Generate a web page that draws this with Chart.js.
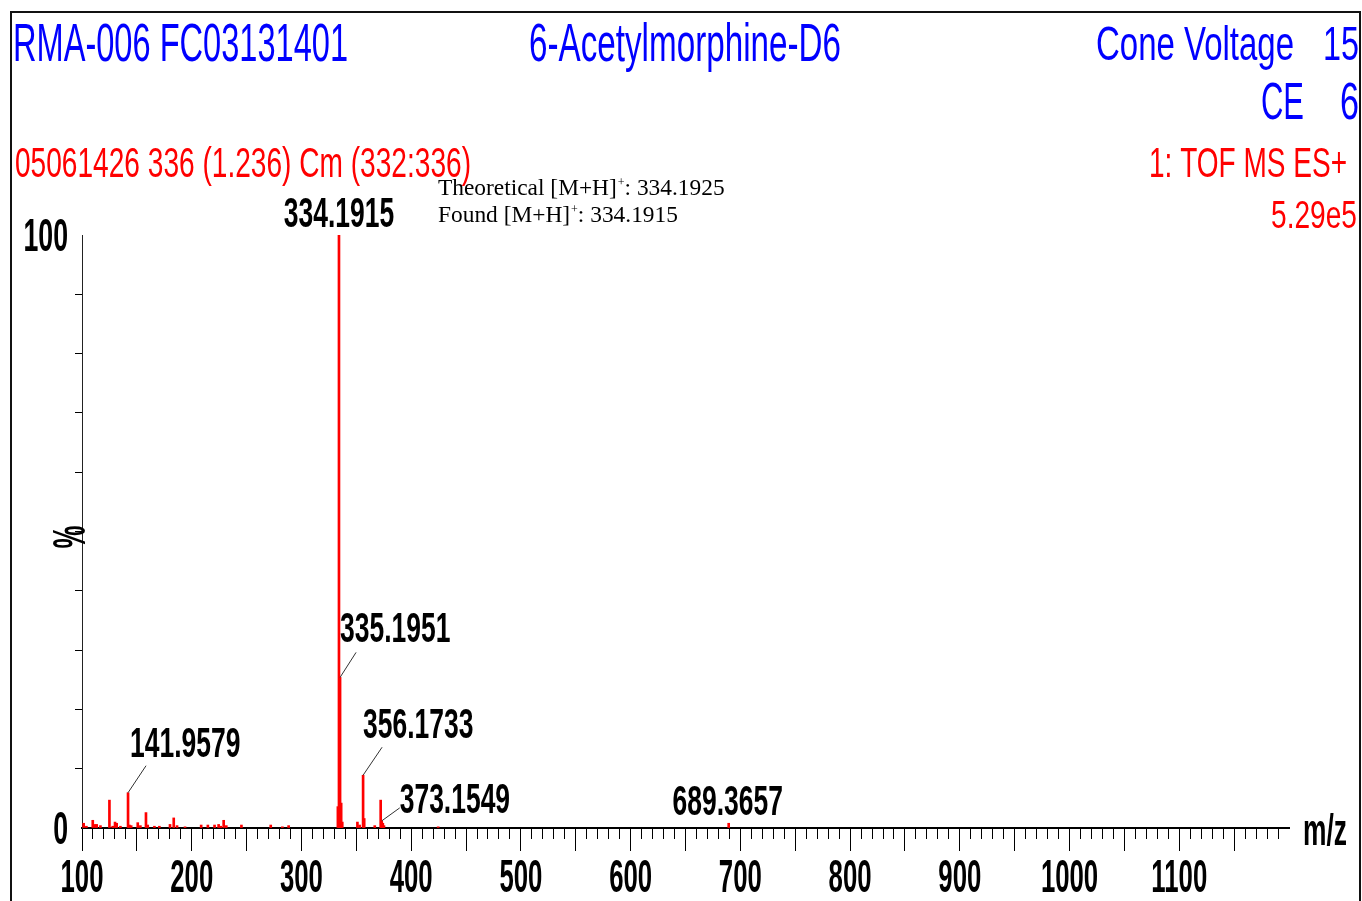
<!DOCTYPE html>
<html>
<head>
<meta charset="utf-8">
<script src="https://cdn.jsdelivr.net/npm/chart.js@4.4.1/dist/chart.umd.min.js"></script>
<style>
html,body{margin:0;padding:0;background:#fff;}
#wrap{width:1362px;height:901px;position:relative;}
</style>
</head>
<body>
<div id="wrap"><canvas id="c"></canvas></div>
<script>
// ---------------- DATA ----------------
const peakMz = [101.5, 104.0, 109.8, 111.9, 113.4, 116.8, 125.0, 128.0, 130.1, 131.6, 135.0,
  141.9579, 143.2, 144.8, 150.8, 153.2, 158.3, 159.9, 166.0, 170.5, 180.2, 183.6, 186.6, 193.9,
  208.6, 214.7, 220.8, 224.5, 226.4, 229.1, 231.5, 245.3, 272.0, 282.6, 288.3,
  333.19, 334.1915, 335.1951, 336.20, 337.20, 351.0, 353.0, 356.1733, 357.18, 366.8,
  372.2, 373.1549, 374.16, 375.2, 424.6, 689.3657];
const peakIntensity = [0.8, 0.3, 1.3, 0.6, 0.6, 0.4, 4.7, 0.3, 1.0, 0.8, 0.3,
  5.95, 0.5, 0.4, 0.9, 0.4, 2.6, 0.5, 0.3, 0.3, 0.6, 1.7, 0.4, 0.2,
  0.5, 0.5, 0.5, 0.6, 0.3, 1.3, 0.4, 0.5, 0.5, 0.2, 0.4,
  3.6, 100, 25.4, 4.2, 1.0, 1.0, 0.5, 8.9, 1.6, 0.4,
  4.7, 1.2, 0.8, 0.4, 0.2, 0.8];
const labelledMz = [141.9579, 334.1915, 335.1951, 356.1733, 373.1549, 689.3657];
const xTickLabels = [100, 200, 300, 400, 500, 600, 700, 800, 900, 1000, 1100];
const yTickLabels = [0, 100];
const sampleTitle = 'RMA-006 FC03131401';
const compoundTitle = '6-Acetylmorphine-D6';
const coneLabel = 'Cone Voltage', coneValue = '15';
const ceLabel = 'CE', ceValue = '6';
const scanInfo = '05061426 336 (1.236) Cm (332:336)';
const modeInfo = '1: TOF MS ES+';
const intensityInfo = '5.29e5';
const theoreticalText = ['Theoretical [M+H]', '+', ': 334.1925'];
const foundText = ['Found [M+H]', '+', ': 334.1915'];
const xAxisTitle = 'm/z';
const yAxisTitle = '%';

// ---------------- STYLE / LAYOUT ----------------
const labelLayout = {
  '141.9579': {lead: [18, -27], dx: 2, dy: -36, align: 'left'},
  '334.1915': {lead: null, dx: 0, dy: -8, align: 'center'},
  '335.1951': {lead: [16, -25], dx: 0, dy: -35, align: 'left'},
  '356.1733': {lead: [19, -28], dx: 0, dy: -37, align: 'left'},
  '373.1549': {lead: [18, -13], dx: 18, dy: -8, align: 'left'},
  '689.3657': {lead: null, dx: -1, dy: -8, align: 'center'}
};
const SANS = "'Liberation Sans', Arial, sans-serif";
const SERIF = "'Liberation Serif', 'Times New Roman', serif";

function drawScaled(ctx, s, x, base, size, sx, align, weight, family, color) {
  ctx.save();
  ctx.font = weight + ' ' + size + 'px ' + family;
  ctx.fillStyle = color;
  ctx.textBaseline = 'alphabetic';
  ctx.textAlign = 'left';
  const w = ctx.measureText(s).width * sx;
  const left = align === 'center' ? x - w / 2 : (align === 'right' ? x - w : x);
  ctx.translate(left, base);
  ctx.scale(sx, 1);
  ctx.fillText(s, 0, 0);
  ctx.restore();
  return w;
}
function drawFit(ctx, s, left, right, base, cap, weight, family, color) {
  const size = cap / 0.716;
  ctx.save();
  ctx.font = weight + ' ' + size + 'px ' + family;
  const w = ctx.measureText(s).width;
  ctx.restore();
  drawScaled(ctx, s, left, base, size, (right - left) / w, 'left', weight, family, color);
}

const framePlugin = {
  id: 'frame',
  beforeDraw(chart) {
    const ctx = chart.ctx;
    ctx.save();
    ctx.fillStyle = '#fff';
    ctx.fillRect(0, 0, chart.width, chart.height);
    ctx.strokeStyle = '#111';
    ctx.lineWidth = 2;
    ctx.strokeRect(11, 12, 1349, 1000);
    ctx.restore();
  }
};

const textPlugin = {
  id: 'texts',
  afterDraw(chart) {
    const ctx = chart.ctx;
    const xs = chart.scales.x, ys = chart.scales.y;
    const BLUE = '#0000ff', RED = '#ff0000', BLACK = '#000';
    // header
    drawFit(ctx, sampleTitle, 13, 348, 61, 38, 'normal', SANS, BLUE);
    drawFit(ctx, compoundTitle, 529, 841, 61, 38, 'normal', SANS, BLUE);
    drawFit(ctx, coneLabel, 1096, 1294, 60, 35, 'normal', SANS, BLUE);
    drawFit(ctx, coneValue, 1323, 1359, 60, 35, 'normal', SANS, BLUE);
    drawFit(ctx, ceLabel, 1261, 1304, 119, 37, 'normal', SANS, BLUE);
    drawFit(ctx, ceValue, 1340, 1359, 119, 37, 'normal', SANS, BLUE);
    drawFit(ctx, scanInfo, 15, 471, 177, 30, 'normal', SANS, RED);
    drawFit(ctx, modeInfo, 1149, 1347, 177, 31, 'normal', SANS, RED);
    drawFit(ctx, intensityInfo, 1271, 1357, 228, 28, 'normal', SANS, RED);
    // theoretical / found
    [[theoreticalText, 195], [foundText, 222]].forEach(([parts, base]) => {
      ctx.save();
      ctx.fillStyle = BLACK; ctx.textBaseline = 'alphabetic'; ctx.textAlign = 'left';
      let x = 438;
      ctx.font = '23.4px ' + SERIF; ctx.fillText(parts[0], x, base); x += ctx.measureText(parts[0]).width;
      ctx.font = '12px ' + SERIF; ctx.fillText(parts[1], x + 1, base - 9); x += ctx.measureText(parts[1]).width + 1;
      ctx.font = '23.4px ' + SERIF; ctx.fillText(parts[2], x, base);
      ctx.restore();
    });
    // x tick labels
    xTickLabels.forEach(v => {
      drawScaled(ctx, String(v), xs.getPixelForValue(v), 892, 46, 0.56, 'center', 'bold', SANS, BLACK);
    });
    // y tick labels
    yTickLabels.forEach(v => {
      const py = ys.getPixelForValue(v);
      drawScaled(ctx, String(v), 68, py + (v === 0 ? 16 : 16), 46, 0.58, 'right', 'bold', SANS, BLACK);
    });
    // axis titles
    drawScaled(ctx, xAxisTitle, 1303, 845, 44, 0.6, 'left', 'bold', SANS, BLACK);
    ctx.save();
    ctx.translate(85, 537);
    ctx.rotate(-Math.PI / 2);
    drawScaled(ctx, yAxisTitle, 0, 0, 46, 0.56, 'center', 'bold', SANS, BLACK);
    ctx.restore();
    // peak labels
    labelledMz.forEach(m => {
      const i = peakMz.indexOf(m);
      const px = xs.getPixelForValue(m), py = ys.getPixelForValue(peakIntensity[i]);
      const L = labelLayout[m.toFixed(4)];
      if (L.lead) {
        ctx.save();
        ctx.strokeStyle = '#333'; ctx.lineWidth = 1;
        ctx.beginPath(); ctx.moveTo(px, py); ctx.lineTo(px + L.lead[0], py + L.lead[1]); ctx.stroke();
        ctx.restore();
      }
      drawScaled(ctx, m.toFixed(4), px + L.dx, py + L.dy, 42, 0.63, L.align, 'bold', SANS, BLACK);
    });
  }
};

const hideAt = (vals) => (c) => (c.tick && vals.indexOf(c.tick.value) >= 0) ? 'rgba(0,0,0,0)' : '#000';

new Chart(document.getElementById('c'), {
  type: 'bar',
  data: {
    datasets: [{
      data: peakMz.map((m, i) => ({x: m, y: peakIntensity[i]})),
      backgroundColor: '#ff0000',
      borderWidth: 0,
      barThickness: 2
    }]
  },
  options: {
    responsive: true,
    maintainAspectRatio: false,
    animation: false,
    devicePixelRatio: 1,
    layout: {padding: {left: 72, right: 73, top: 235, bottom: 43}},
    plugins: {legend: {display: false}, tooltip: {enabled: false}, title: {display: false}},
    scales: {
      x: {
        type: 'linear', position: 'bottom', min: 100, max: 1200, offset: false,
        grid: {drawOnChartArea: false, drawTicks: true, tickLength: 11, tickWidth: 1, tickColor: hideAt([1200]), offset: false},
        border: {display: true, color: '#000', width: 2},
        ticks: {display: false, stepSize: 10, maxTicksLimit: 200, autoSkip: false},
        afterFit: s => { s.height = 30; }
      },
      x2: {
        type: 'linear', position: {y: 0}, min: 100, max: 1200, offset: false,
        grid: {drawOnChartArea: false, drawTicks: true, tickLength: 23, tickWidth: 1, tickColor: hideAt([1200]), offset: false},
        border: {display: false},
        ticks: {display: false, stepSize: 50, maxTicksLimit: 100, autoSkip: false}
      },
      y: {
        type: 'linear', position: 'left', min: 0, max: 100,
        grid: {drawOnChartArea: false, drawTicks: true, tickLength: 7, tickWidth: 1, tickColor: hideAt([0, 100])},
        border: {display: true, color: '#222', width: 1},
        ticks: {display: false, stepSize: 10},
        afterFit: s => { s.width = 10; }
      }
    }
  },
  plugins: [framePlugin, textPlugin]
});
</script>
</body>
</html>
